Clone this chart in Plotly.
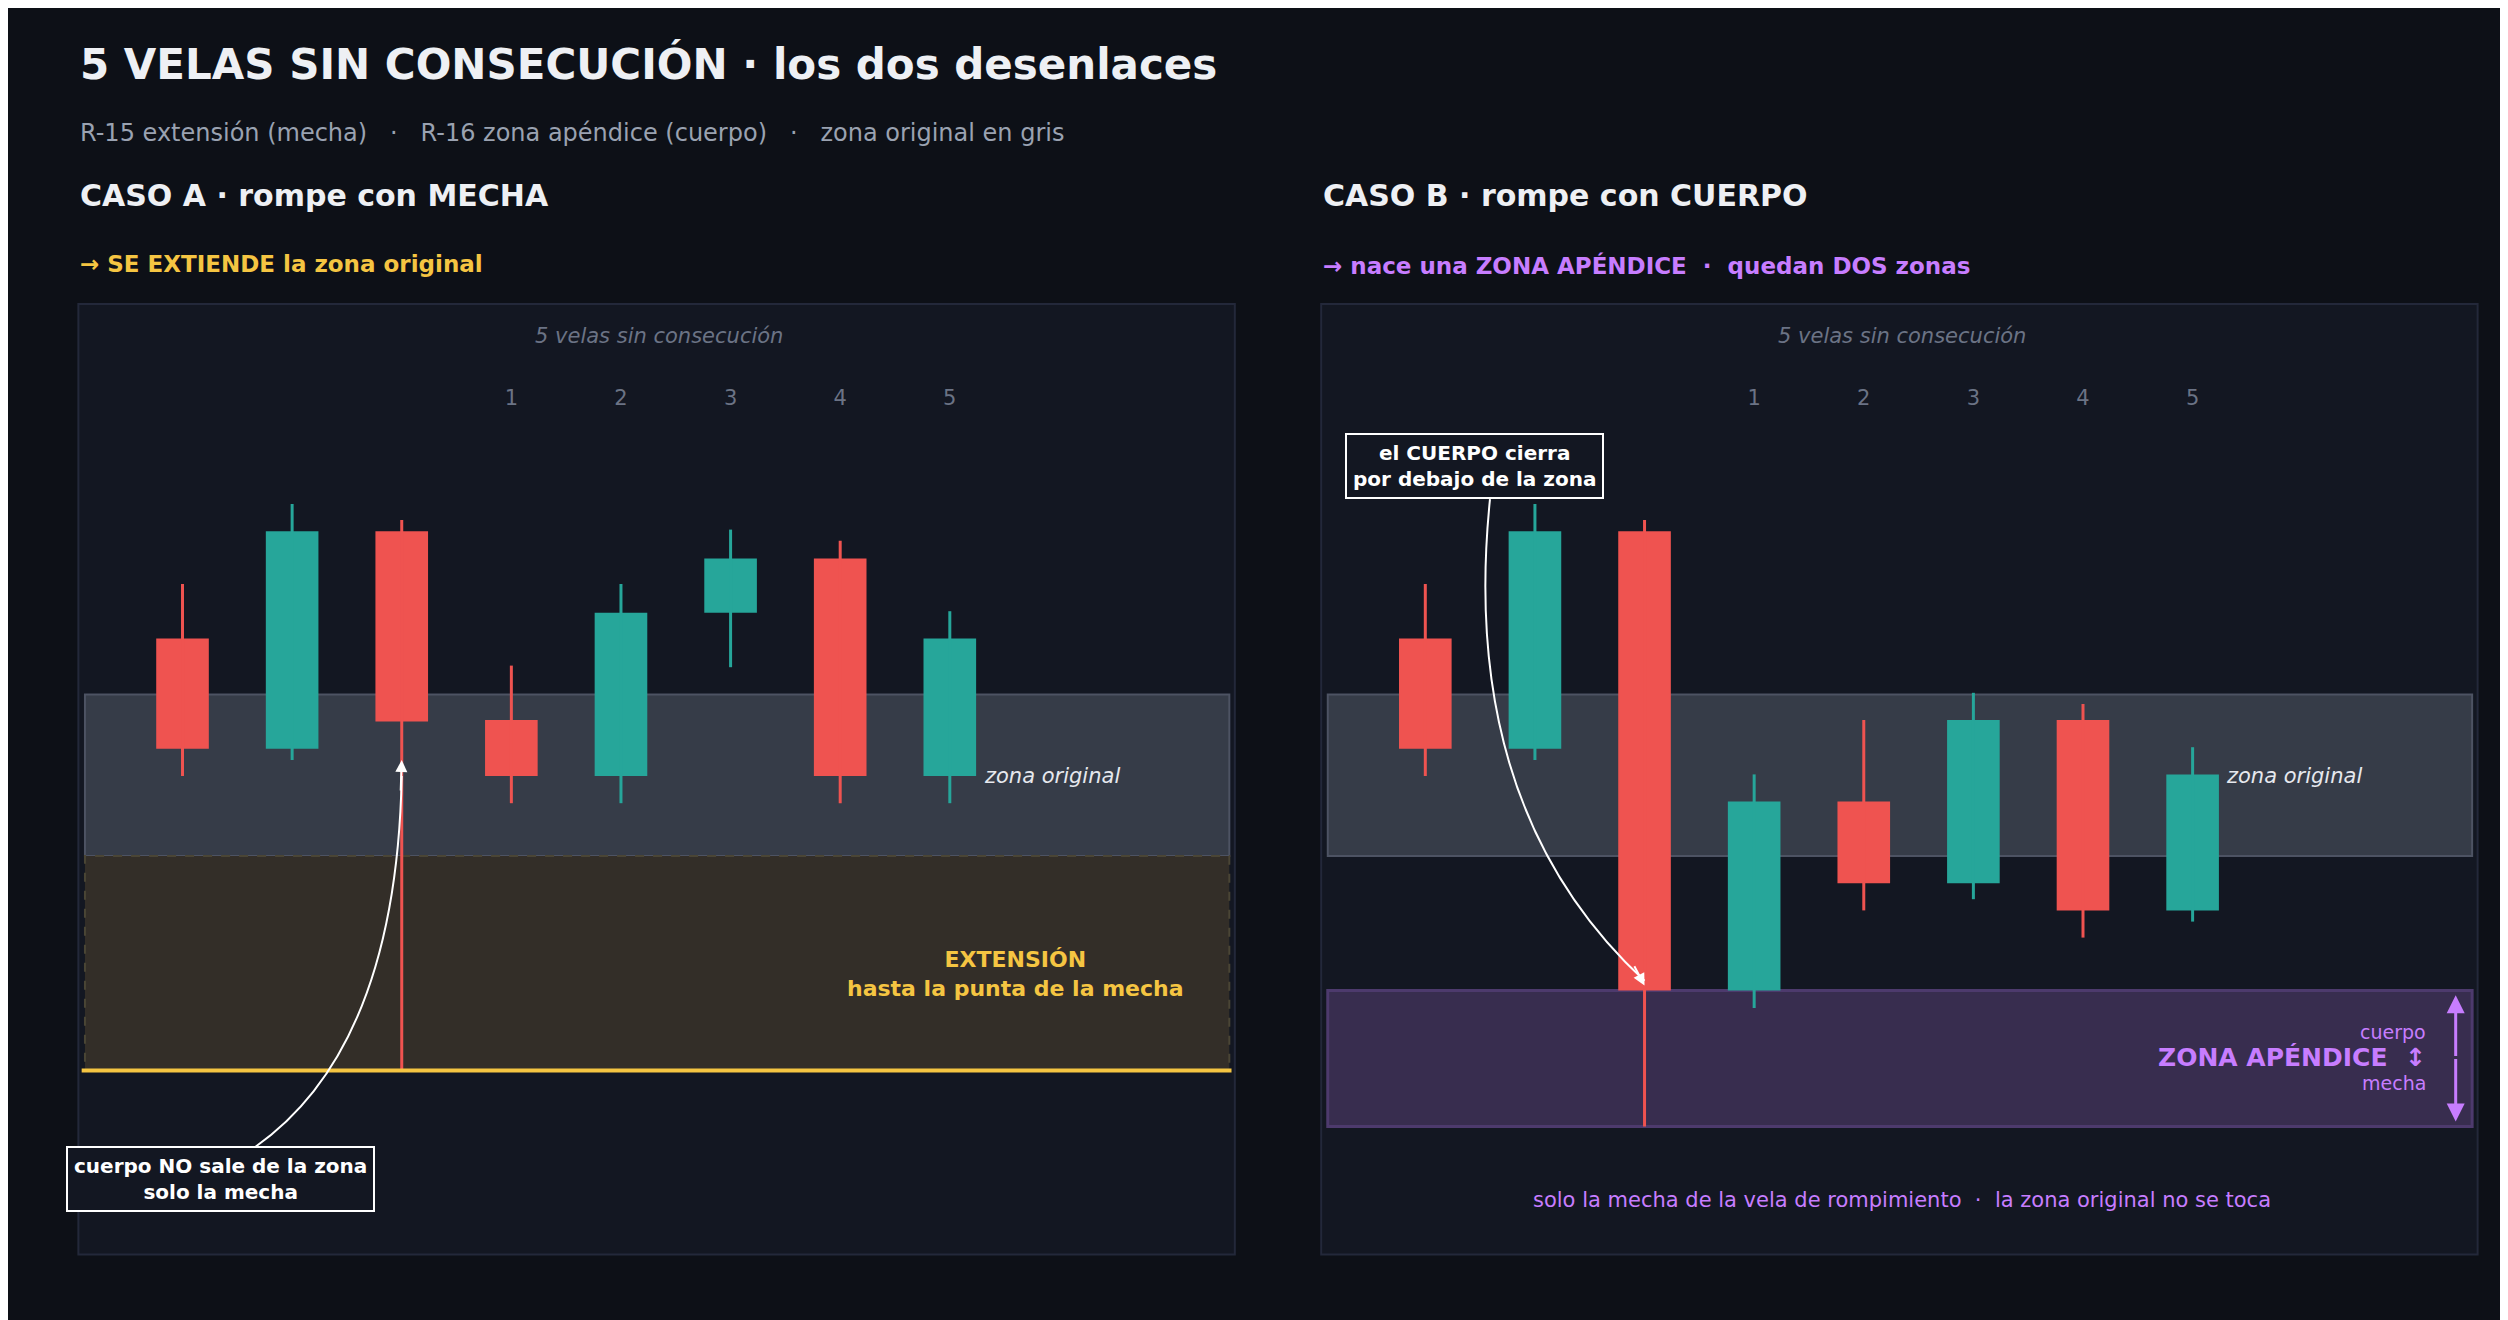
import plotly.graph_objects as go

# ---------------- data ----------------
idx = [0, 1, 2, 3, 4, 5, 6, 7]
numbers = ["", "", "", "1", "2", "3", "4", "5"]

a_open  = [40.6, 33.7, 47.3, 35.5, 32.0, 42.2, 45.6, 32.0]
a_close = [33.7, 47.3, 35.4, 32.0, 42.2, 45.6, 32.0, 40.6]
a_high  = [44.0, 49.0, 48.0, 38.9, 44.0, 47.4, 46.7, 42.3]
a_low   = [32.0, 33.0, 13.6, 30.3, 30.3, 38.8, 30.3, 30.3]

b_open  = [40.6, 33.7, 47.3, 18.6, 30.4, 25.3, 35.5, 23.6]
b_close = [33.7, 47.3, 18.6, 30.4, 25.3, 35.5, 23.6, 32.1]
b_high  = [44.0, 49.0, 48.0, 32.1, 35.5, 37.2, 36.5, 33.8]
b_low   = [32.0, 33.0, 10.1, 17.5, 23.6, 24.3, 21.9, 22.9]

zone_orig = (27.0, 37.1)
zone_ext = (13.6, 27.0)
zone_app = (10.1, 18.6)

RED = "#ef5350"; GREEN = "#26a69a"
BG = "#0d1017"; PANEL = "#131722"
FONT = "DejaVu Sans"

fig = go.Figure()

def add_candles(o, c, h, l, xa, ya):
    cols = [GREEN if cc >= oo else RED for oo, cc in zip(o, c)]
    for i, oo, cc, hh, ll, col in zip(idx, o, c, h, l, cols):
        fig.add_trace(go.Scatter(x=[i, i], y=[ll, hh], mode="lines",
                                 line=dict(color=col, width=3), xaxis=xa, yaxis=ya,
                                 showlegend=False, hoverinfo="skip"))
    fig.add_trace(go.Bar(x=idx, y=[abs(cc - oo) for oo, cc in zip(o, c)],
                         base=[min(oo, cc) for oo, cc in zip(o, c)],
                         width=0.48, marker=dict(color=cols, line=dict(width=0)),
                         xaxis=xa, yaxis=ya, showlegend=False, hoverinfo="skip"))
    fig.add_trace(go.Scatter(x=[i for i, n in zip(idx, numbers) if n],
                             y=[55.5] * 5, text=[n for n in numbers if n], mode="text",
                             textfont=dict(family=FONT, size=21, color="#6b7385"),
                             xaxis=xa, yaxis=ya, showlegend=False, hoverinfo="skip"))

XR = [-0.95, 9.6]
YR = [2.1, 61.5]

shapes = []
for xr, yr in (("x", "y"), ("x2", "y2")):
    shapes.append(dict(type="rect", xref=xr + " domain", yref=yr + " domain", x0=0, x1=1, y0=0, y1=1,
                       fillcolor=PANEL, line=dict(color="#23283a", width=2), layer="below"))
    shapes.append(dict(type="rect", xref=xr, yref=yr, x0=-0.89, x1=9.55, y0=zone_orig[0], y1=zone_orig[1],
                       fillcolor="#363c48", line=dict(color="#4d5363", width=2), layer="below"))

# extension zone
shapes.append(dict(type="rect", xref="x", yref="y", x0=-0.89, x1=9.55, y0=zone_ext[0], y1=zone_ext[1],
                   fillcolor="#332e28", line=dict(color="#4a4535", width=2, dash="dash"), layer="below"))
shapes.append(dict(type="line", xref="x", yref="y", x0=-0.92, x1=9.57, y0=zone_ext[0], y1=zone_ext[0],
                   line=dict(color="#f5c542", width=4)))
# appendix zone
shapes.append(dict(type="rect", xref="x2", yref="y2", x0=-0.89, x1=9.55, y0=zone_app[0], y1=zone_app[1],
                   fillcolor="#382d4f", line=dict(color="#4d3a6d", width=3), layer="below"))
# curved arrows
shapes.append(dict(type="path", xref="x", yref="y",
                   path="M 0.66,8.8 Q 1.95,15.0 2.0,32.0", line=dict(color="white", width=2)))
shapes.append(dict(type="path", xref="x2", yref="y2",
                   path="M 0.59,49.3 Q 0.3,30.0 2.0,19.2", line=dict(color="white", width=2)))

add_candles(a_open, a_close, a_high, a_low, "x", "y")
add_candles(b_open, b_close, b_high, b_low, "x2", "y2")

ann = []
def t(text, x, y, size, color, bold=False, xanchor="left", xref="paper", yref="paper", italic=False, align="left"):
    if bold:
        text = "<b>" + text + "</b>"
    if italic:
        text = "<i>" + text + "</i>"
    ann.append(dict(text=text, x=x, y=y, xref=xref, yref=yref, xanchor=xanchor, yanchor="middle",
                    showarrow=False, align=align, font=dict(family=FONT, size=size, color=color)))

W, H = 1568, 825
t("5 VELAS SIN CONSECUCIÓN · los dos desenlaces", 44 / W, 1 - 35 / H, 42, "#eef0f4", bold=True)
t("R-15 extensión (mecha)   ·   R-16 zona apéndice (cuerpo)   ·   zona original en gris", 44 / W, 1 - 78 / H, 24, "#9aa2b1")
t("CASO A · rompe con MECHA", 44 / W, 1 - 117 / H, 30, "#eef0f4", bold=True)
t("CASO B · rompe con CUERPO", 821 / W, 1 - 117 / H, 30, "#eef0f4", bold=True)
t("→ SE EXTIENDE la zona original", 44 / W, 1 - 160 / H, 23, "#f5c542", bold=True)
t("→ nace una ZONA APÉNDICE  ·  quedan DOS zonas", 821 / W, 1 - 161 / H, 23, "#c77dff", bold=True)

for xr, yr in (("x", "y"), ("x2", "y2")):
    t("5 velas sin consecución", 4.35, 59.5, 21, "#6b7385", xanchor="center", xref=xr, yref=yr, italic=True)
    t("zona original", 7.29, 32.0, 21, "#e6e8ee", xanchor="left", xref=xr, yref=yr, italic=True)

t("EXTENSIÓN<br>hasta la punta de la mecha", 7.6, 19.6, 22, "#f5c542", bold=True, xanchor="center",
  xref="x", yref="y", align="center")
t("cuerpo", 9.15, 16.0, 19, "#c77dff", xanchor="right", xref="x2", yref="y2")
t("ZONA APÉNDICE  ↕", 9.15, 14.4, 25, "#c77dff", bold=True, xanchor="right", xref="x2", yref="y2")
t("mecha", 9.15, 12.8, 19, "#c77dff", xanchor="right", xref="x2", yref="y2")
t("solo la mecha de la vela de rompimiento  ·  la zona original no se toca", 4.35, 5.5, 21, "#c77dff",
  xanchor="center", xref="x2", yref="y2")

# boxed labels
ann.append(dict(text="<b>cuerpo NO sale de la zona<br>solo la mecha</b>", x=0.35, y=6.8, xref="x", yref="y",
                showarrow=False, font=dict(family=FONT, size=20, color="white"), align="center",
                bgcolor=PANEL, bordercolor="white", borderwidth=2, borderpad=6))
ann.append(dict(text="<b>el CUERPO cierra<br>por debajo de la zona</b>", x=0.45, y=51.4, xref="x2", yref="y2",
                showarrow=False, font=dict(family=FONT, size=20, color="white"), align="center",
                bgcolor=PANEL, bordercolor="white", borderwidth=2, borderpad=6))
# arrowheads
ann.append(dict(x=2.0, y=33.0, ax=1.99, ay=31.0, xref="x", yref="y", axref="x", ayref="y", text="",
                showarrow=True, arrowhead=2, arrowsize=1.2, arrowwidth=2, arrowcolor="white"))
ann.append(dict(x=2.0, y=18.9, ax=1.9, ay=20.2, xref="x2", yref="y2", axref="x2", ayref="y2", text="",
                showarrow=True, arrowhead=2, arrowsize=1.2, arrowwidth=2, arrowcolor="white"))
# double arrow in appendix zone
ann.append(dict(x=9.4, y=18.3, ax=9.4, ay=14.4, xref="x2", yref="y2", axref="x2", ayref="y2", text="",
                showarrow=True, arrowhead=2, arrowsize=1.2, arrowwidth=3, arrowcolor="#c77dff"))
ann.append(dict(x=9.4, y=10.4, ax=9.4, ay=14.4, xref="x2", yref="y2", axref="x2", ayref="y2", text="",
                showarrow=True, arrowhead=2, arrowsize=1.2, arrowwidth=3, arrowcolor="#c77dff"))

ax = dict(showgrid=False, zeroline=False, showticklabels=False, ticks="", fixedrange=True)
fig.update_layout(
    width=2508, height=1320, margin=dict(l=0, r=0, t=0, b=0),
    paper_bgcolor=BG, plot_bgcolor="rgba(0,0,0,0)", barmode="overlay",
    xaxis=dict(domain=[44 / W, 767 / W], range=XR, **ax),
    yaxis=dict(domain=[1 - 779 / H, 1 - 185 / H], range=YR, **ax),
    xaxis2=dict(domain=[821 / W, 1544 / W], range=XR, anchor="y2", **ax),
    yaxis2=dict(domain=[1 - 779 / H, 1 - 185 / H], range=YR, anchor="x2", **ax),
    shapes=shapes, annotations=ann, showlegend=False,
)
fig.write_html("out.html")
